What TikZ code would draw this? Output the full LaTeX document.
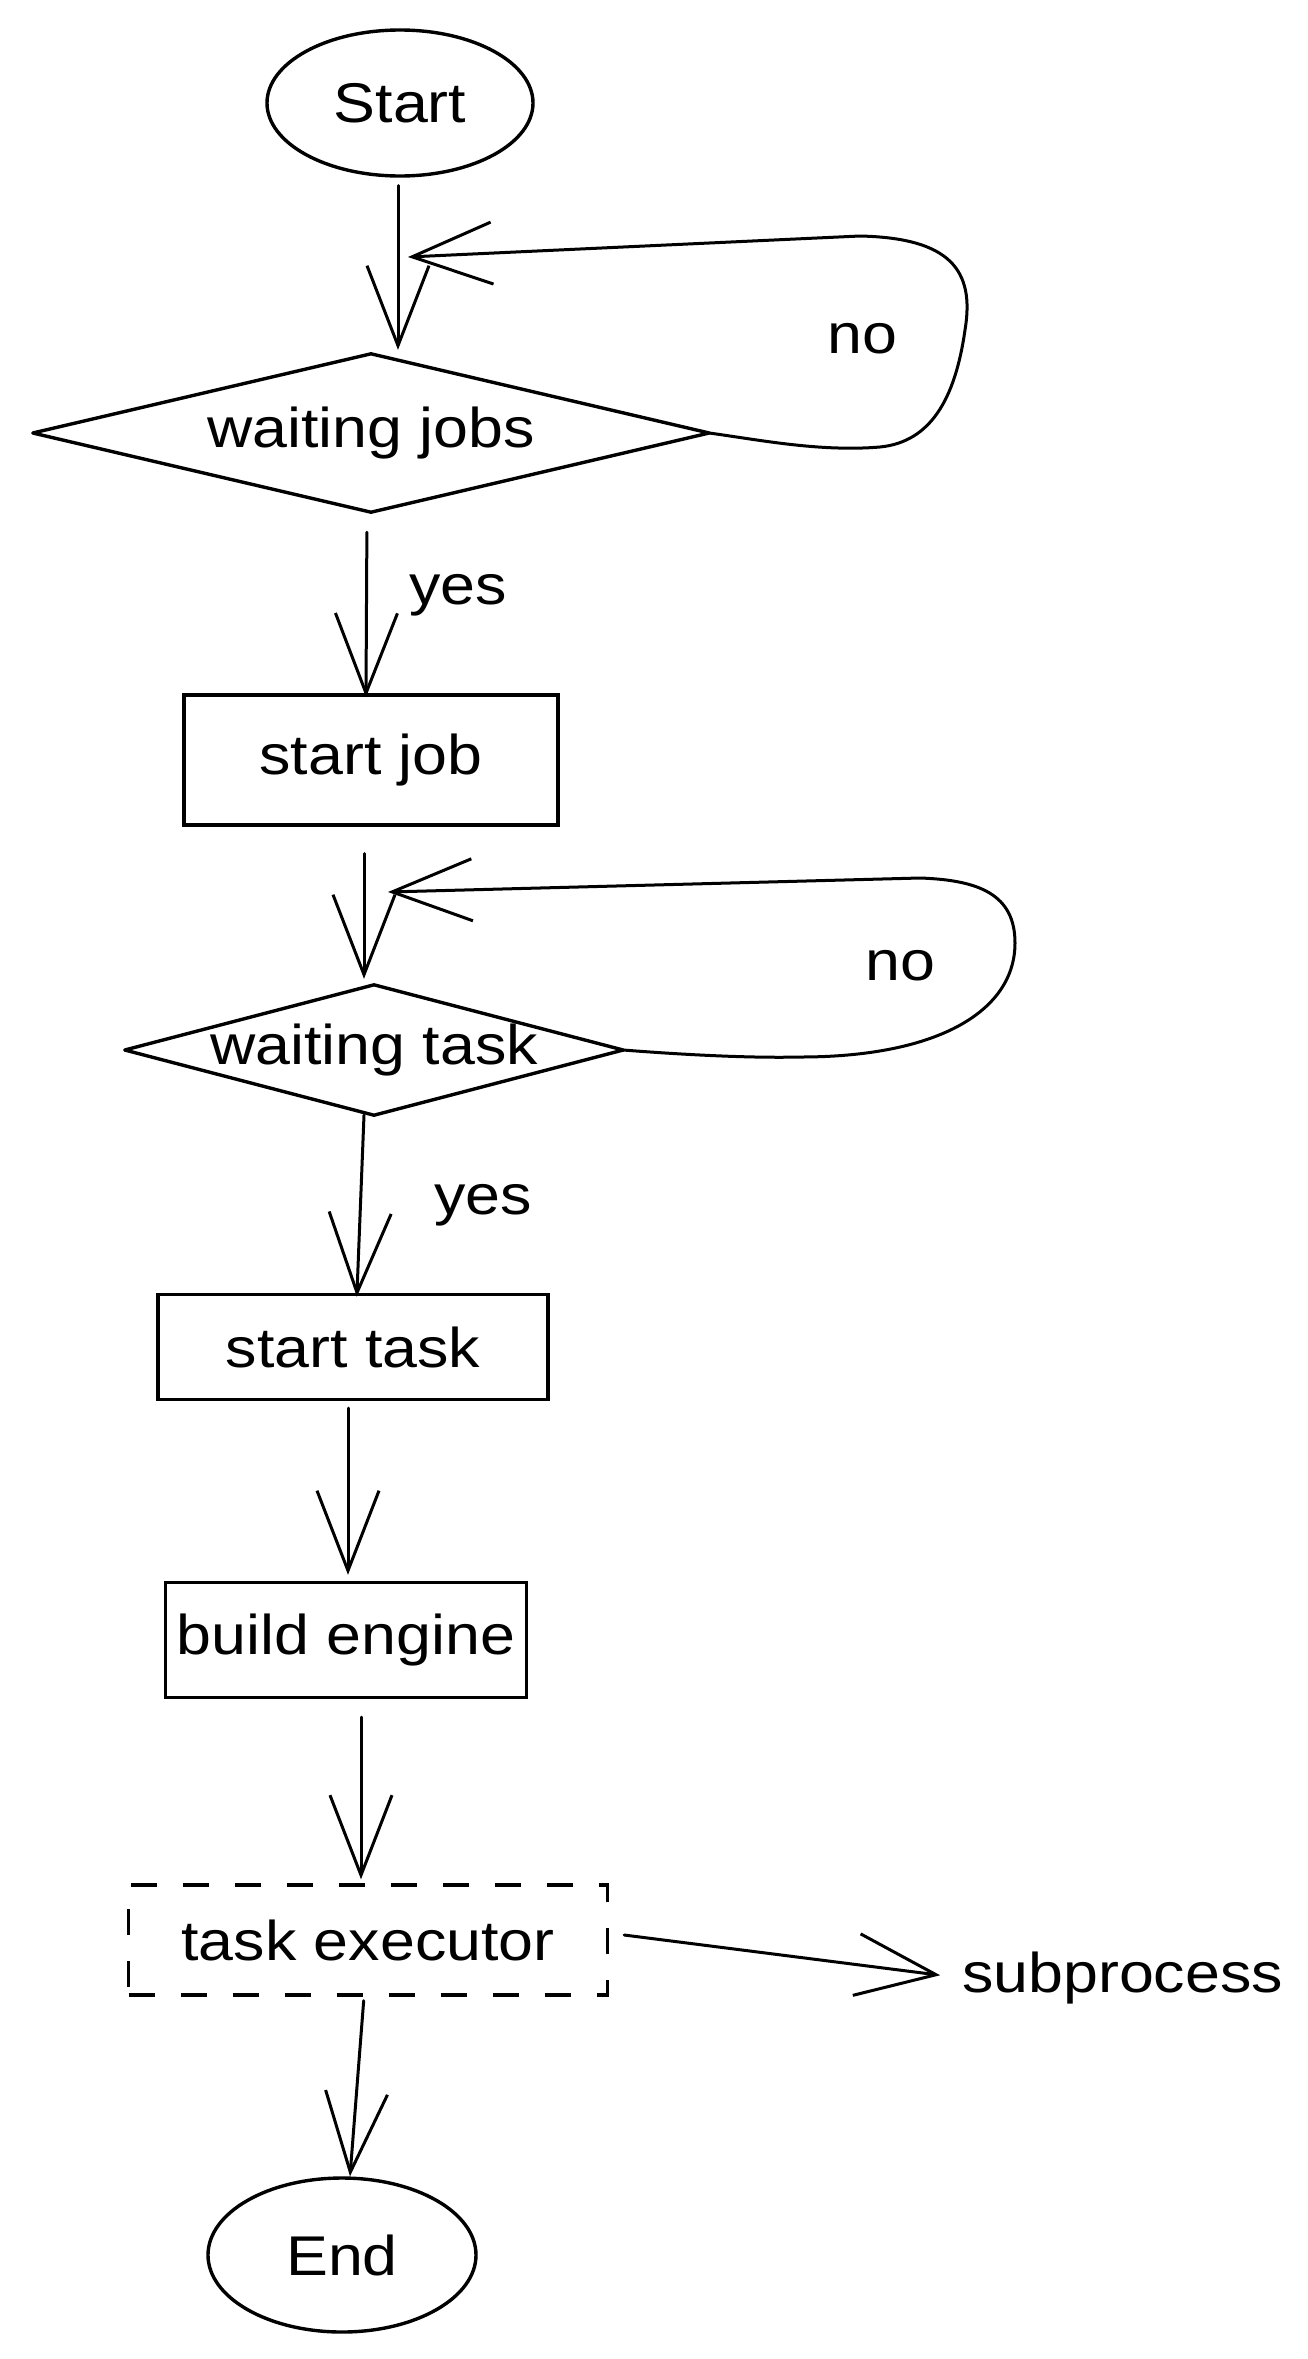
\documentclass[tikz,border=0pt]{standalone}
\usepackage{fontspec}
\setmainfont[FakeStretch=1.12]{Liberation Sans}
\usetikzlibrary{arrows.meta,shapes.geometric}
\begin{document}
\begin{tikzpicture}[x=1pt,y=-1pt,
  every node/.style={font=\fontsize{56}{60}\selectfont},
  shp/.style={draw=black,line width=3.4pt,inner sep=0pt},
  oval/.style={shp,ellipse},
  box/.style={shp,rectangle},
  dbox/.style={shp,rectangle,dash pattern=on 26pt off 26pt},
  dec/.style={rectangle,inner sep=0pt},
  outline/.style={line width=3.4pt,line join=round},
  conn/.style={line width=3pt,line cap=round,line join=round,
    -{Straight Barb[length=80pt,width=62pt,line width=3pt]}},
  lbl/.style={inner sep=0pt}]
\useasboundingbox (0,0) rectangle (1308,2359);
% nodes
\node[oval,minimum width=266pt,minimum height=146pt] (start) at (400,103) {Start};
\node[dec,minimum width=676pt,minimum height=158pt] (wj) at (371,433) {waiting jobs};
\draw[outline] (wj.west) -- (wj.north) -- (wj.east) -- (wj.south) -- cycle;
\node[box,minimum width=374pt,minimum height=130pt] (sj) at (371,760) {start job};
\node[dec,minimum width=498pt,minimum height=130pt] (wt) at (374,1050) {waiting task};
\draw[outline] (wt.west) -- (wt.north) -- (wt.east) -- (wt.south) -- cycle;
\node[box,minimum width=390pt,minimum height=105pt] (st) at (353,1347) {start task};
\node[box,minimum width=361pt,minimum height=115pt] (be) at (346,1640) {build engine};
\node[dbox,minimum width=479pt,minimum height=110pt] (te) at (368,1940) {task executor};
\node[lbl,anchor=west] (sub) at (962,1978) {subprocess};
\node[oval,minimum width=268pt,minimum height=154pt] (end) at (342,2255) {End};
% labels
\node[lbl] (no1) at (862,339) {no};
\node[lbl] (yes1) at (458,595) {yes};
\node[lbl] (no2) at (900,966) {no};
\node[lbl] (yes2) at (483,1205) {yes};
% loop targets
\coordinate (loop1) at (408,257);
\coordinate (loop2) at (388,892);
% connectors
\draw[conn,shorten <=8pt,shorten >=4pt] ([xshift=-2pt]start.south) -- ([xshift=27pt]wj.north);
\draw[conn] (wj.east) .. controls (760,440) and (820,452) .. (880,447)
   .. controls (930,442) and (955,400) .. (965,330)
   .. controls (975,270) and (950,238) .. (860,236) -- (loop1);
\draw[conn,shorten <=20pt,shorten >=-4pt] ([xshift=-4pt]wj.south) -- ([xshift=-5pt]sj.north);
\draw[conn,shorten <=27pt,shorten >=6pt] ([xshift=-7pt]sj.south) -- ([xshift=-10pt]wt.north);
\draw[conn] (wt.east) .. controls (700,1056) and (760,1058) .. (800,1057)
   .. controls (940,1057) and (1015,1010) .. (1015,943)
   .. controls (1015,895) and (980,880) .. (920,878) -- (loop2);
\draw[conn,shorten >=-4pt] ([xshift=-10pt]wt.south) -- ([xshift=4pt]st.north);
\draw[conn,shorten <=7pt,shorten >=6pt] ([xshift=-5pt]st.south) -- ([xshift=2pt]be.north);
\draw[conn,shorten <=18pt,shorten >=4pt] ([xshift=15pt]be.south) -- ([xshift=-7pt]te.north);
\draw[conn,shorten >=22pt] ([xshift=15pt,yshift=5pt]te.east) -- (sub.west);
\draw[conn,shorten <=4pt] ([xshift=-4pt]te.south) -- ([xshift=8pt]end.north);
\end{tikzpicture}
\end{document}
